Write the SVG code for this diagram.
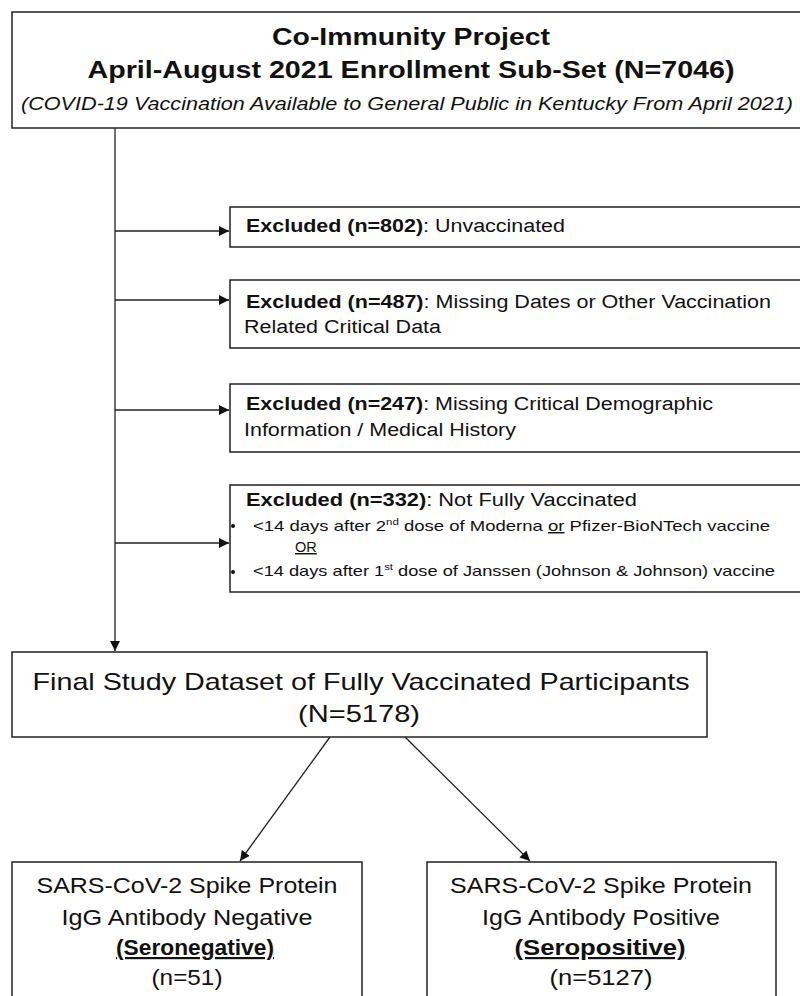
<svg xmlns="http://www.w3.org/2000/svg" width="800" height="996" viewBox="0 0 800 996">
<defs>
<style>
.box{fill:#fff;stroke:#222;stroke-width:1.5}
.t{font-family:"Liberation Sans Narrow","Liberation Sans",Arial,sans-serif;fill:#111}
.b{font-weight:bold}
.ln{stroke:#222;stroke-width:1.3;fill:none}
</style>
<marker id="ah" viewBox="0 0 10 10" refX="10" refY="5" markerWidth="10" markerHeight="10" markerUnits="userSpaceOnUse" orient="auto">
<path d="M0,0 L10,5 L0,10 z" fill="#111"/>
</marker>
</defs>
<rect width="800" height="996" fill="#fff"/>

<g id="connectors">
<line class="ln" x1="115" y1="128" x2="115" y2="651" marker-end="url(#ah)"/>
<line class="ln" x1="115" y1="231" x2="229" y2="231" marker-end="url(#ah)"/>
<line class="ln" x1="115" y1="300" x2="229" y2="300" marker-end="url(#ah)"/>
<line class="ln" x1="115" y1="410" x2="229" y2="410" marker-end="url(#ah)"/>
<line class="ln" x1="115" y1="543" x2="229" y2="543" marker-end="url(#ah)"/>
<line class="ln" x1="330" y1="737" x2="240" y2="861" marker-end="url(#ah)"/>
<line class="ln" x1="405" y1="737" x2="530" y2="861" marker-end="url(#ah)"/>
</g>

<g id="top">
<rect class="box" x="12" y="12" width="800" height="116"/>
<text class="t b" x="411" y="45" font-size="24" text-anchor="middle" textLength="278" lengthAdjust="spacingAndGlyphs">Co-Immunity Project</text>
<text class="t b" x="411" y="78" font-size="24" text-anchor="middle" textLength="647" lengthAdjust="spacingAndGlyphs">April-August 2021 Enrollment Sub-Set (N=7046)</text>
<text class="t" x="407" y="110" font-size="19" font-style="italic" text-anchor="middle" textLength="772" lengthAdjust="spacingAndGlyphs">(COVID-19 Vaccination Available to General Public in Kentucky From April 2021)</text>
</g>

<g id="ex1">
<rect class="box" x="230" y="207" width="580" height="40"/>
<text class="t" x="246" y="232" font-size="18" textLength="319" lengthAdjust="spacingAndGlyphs"><tspan class="b">Excluded (n=802)</tspan>: Unvaccinated</text>
</g>

<g id="ex2">
<rect class="box" x="230" y="280" width="580" height="68"/>
<text class="t" x="246" y="308" font-size="18" textLength="525" lengthAdjust="spacingAndGlyphs"><tspan class="b">Excluded (n=487)</tspan>: Missing Dates or Other Vaccination</text>
<text class="t" x="244" y="333" font-size="18" textLength="197" lengthAdjust="spacingAndGlyphs">Related Critical Data</text>
</g>

<g id="ex3">
<rect class="box" x="230" y="384" width="580" height="68"/>
<text class="t" x="246" y="410" font-size="18" textLength="467" lengthAdjust="spacingAndGlyphs"><tspan class="b">Excluded (n=247)</tspan>: Missing Critical Demographic</text>
<text class="t" x="244" y="436" font-size="18" textLength="272" lengthAdjust="spacingAndGlyphs">Information / Medical History</text>
</g>

<g id="ex4">
<rect class="box" x="230" y="485" width="580" height="107"/>
<text class="t" x="246" y="506" font-size="18" textLength="391" lengthAdjust="spacingAndGlyphs"><tspan class="b">Excluded (n=332)</tspan>: Not Fully Vaccinated</text>
<circle cx="233" cy="526" r="2" fill="#111"/>
<text class="t" x="253" y="531" font-size="14.5" textLength="517" lengthAdjust="spacingAndGlyphs">&lt;14 days after 2<tspan font-size="9" dy="-6">nd</tspan><tspan dy="6"> dose of Moderna </tspan><tspan text-decoration="underline">or</tspan> Pfizer-BioNTech vaccine</text>
<text class="t" x="295" y="552" font-size="14.5" text-decoration="underline">OR</text>
<circle cx="233" cy="572" r="2" fill="#111"/>
<text class="t" x="253" y="576" font-size="14.5" textLength="522" lengthAdjust="spacingAndGlyphs">&lt;14 days after 1<tspan font-size="9" dy="-6">st</tspan><tspan dy="6"> dose of Janssen (Johnson &amp; Johnson) vaccine</tspan></text>
</g>

<g id="final">
<rect class="box" x="12" y="652" width="695" height="85"/>
<text class="t" x="361" y="690" font-size="24" text-anchor="middle" textLength="657" lengthAdjust="spacingAndGlyphs">Final Study Dataset of Fully Vaccinated Participants</text>
<text class="t" x="359" y="722" font-size="24" text-anchor="middle" textLength="122" lengthAdjust="spacingAndGlyphs">(N=5178)</text>
</g>

<g id="neg">
<rect class="box" x="12" y="862" width="350" height="150"/>
<text class="t" x="187" y="893" font-size="22" text-anchor="middle" textLength="301" lengthAdjust="spacingAndGlyphs">SARS-CoV-2 Spike Protein</text>
<text class="t" x="187" y="925" font-size="22" text-anchor="middle" textLength="251" lengthAdjust="spacingAndGlyphs">IgG Antibody Negative</text>
<text class="t b" x="195" y="955" font-size="22" text-anchor="middle" text-decoration="underline" textLength="158" lengthAdjust="spacingAndGlyphs">(Seronegative)</text>
<text class="t" x="187" y="985" font-size="22" text-anchor="middle" textLength="71" lengthAdjust="spacingAndGlyphs">(n=51)</text>
</g>

<g id="pos">
<rect class="box" x="427" y="862" width="349" height="150"/>
<text class="t" x="601" y="893" font-size="22" text-anchor="middle" textLength="302" lengthAdjust="spacingAndGlyphs">SARS-CoV-2 Spike Protein</text>
<text class="t" x="601" y="925" font-size="22" text-anchor="middle" textLength="238" lengthAdjust="spacingAndGlyphs">IgG Antibody Positive</text>
<text class="t b" x="600" y="955" font-size="22" text-anchor="middle" text-decoration="underline" textLength="171" lengthAdjust="spacingAndGlyphs">(Seropositive)</text>
<text class="t" x="601" y="985" font-size="22" text-anchor="middle" textLength="103" lengthAdjust="spacingAndGlyphs">(n=5127)</text>
</g>
</svg>
